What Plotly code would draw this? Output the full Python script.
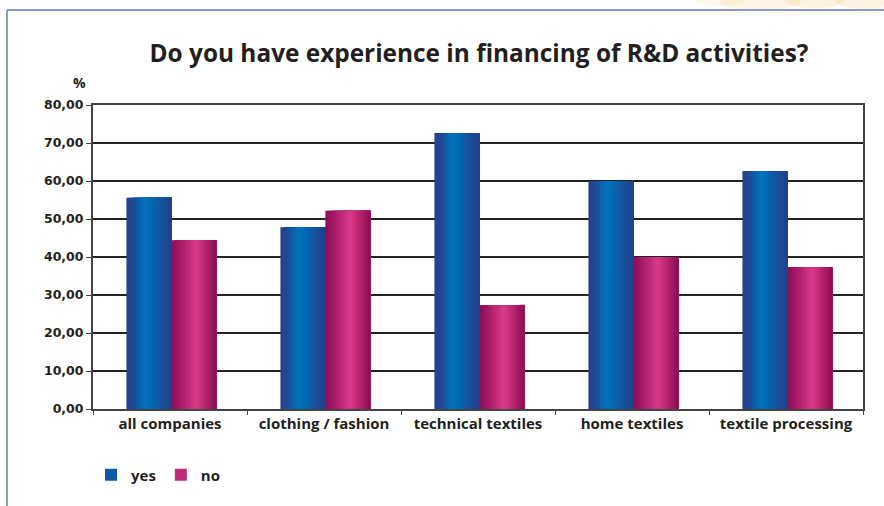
import plotly.graph_objects as go

# Survey results (percent of respondents)
categories = ["all companies", "clothing / fashion", "technical textiles",
              "home textiles", "textile processing"]
yes_values = [55.6, 47.8, 72.6, 60.0, 62.6]
no_values = [44.4, 52.2, 27.4, 40.0, 37.4]
series_names = ["yes", "no"]

W, H = 884, 506
L, R, T, B = 93, 863, 105, 409          # plot area in pixels
Y_MAX = 80


def px_x(p):
    return (p - L) / (R - L)


def px_y(p):
    return (B - p) / (B - T)


def hex_to_rgb(h):
    h = h.lstrip("#")
    return tuple(int(h[i:i + 2], 16) for i in (0, 2, 4))


def lerp_color(stops, t):
    for (t0, c0), (t1, c1) in zip(stops, stops[1:]):
        if t0 <= t <= t1:
            a = (t - t0) / (t1 - t0) if t1 > t0 else 0
            r0, r1 = hex_to_rgb(c0), hex_to_rgb(c1)
            return "rgb(%d,%d,%d)" % tuple(round(x + (y - x) * a) for x, y in zip(r0, r1))
    return stops[-1][1]


# horizontal shading profile across each bar (cylinder look)
blue_stops = [(0.0, "#2b3d8b"), (0.15, "#1d4a96"), (0.4, "#0073bc"),
              (0.55, "#0068b2"), (0.8, "#1a4e98"), (1.0, "#223f8b")]
pink_stops = [(0.0, "#8a0f55"), (0.2, "#a51a66"), (0.55, "#da3b89"),
              (0.75, "#ba256f"), (1.0, "#890d52")]

bar_w = 0.292
shift = 0.009
n_strips = 20
strip_w = bar_w / n_strips

fig = go.Figure()
for name, vals, stops, base_off, legend_col in [
    ("yes", yes_values, blue_stops, -bar_w + shift, "#0b5aa6"),
    ("no", no_values, pink_stops, shift, "#c02a76"),
]:
    # each strip runs to the bar's right edge; later strips cover earlier ones
    for k in range(n_strips):
        t = (k + 0.5) / n_strips
        fig.add_trace(go.Bar(
            x=categories, y=vals,
            width=bar_w - k * strip_w,
            offset=base_off + k * strip_w,
            marker=dict(color=lerp_color(stops, t), line=dict(width=0)),
            name=name, legendgroup=name,
            showlegend=False, hoverinfo="skip",
        ))
    # legend entry
    fig.add_trace(go.Bar(
        x=[categories[0]], y=[None], name=name, legendgroup=name,
        marker=dict(color=legend_col, line=dict(width=0)), showlegend=True,
    ))

font_cat = "Open Sans, Liberation Sans, sans-serif"
text_col = "#231f20"

shapes = [
    # outer page frame
    dict(type="line", xref="paper", yref="paper",
         x0=px_x(7), x1=px_x(W + 5), y0=px_y(10), y1=px_y(10),
         line=dict(color="#8a9bc8", width=2)),
    dict(type="line", xref="paper", yref="paper",
         x0=px_x(7), x1=px_x(7), y0=px_y(10), y1=px_y(H + 5),
         line=dict(color="#8a9bc8", width=2)),
]
# soft warm blotches along the top edge
for cx, cy, rx, ry, a in [(760, 2, 40, 8, 0.18), (815, 0, 30, 8, 0.22),
                          (865, 1, 30, 8, 0.2), (720, 0, 25, 6, 0.12)]:
    shapes.append(dict(type="circle", xref="paper", yref="paper", layer="below",
                       x0=px_x(cx - rx), x1=px_x(cx + rx),
                       y0=px_y(cy + ry), y1=px_y(cy - ry),
                       fillcolor="rgba(246,200,110,%.2f)" % a, line=dict(width=0)))

fig.update_layout(
    width=W, height=H, autosize=False,
    margin=dict(l=L, r=W - R, t=T, b=H - B, pad=0),
    paper_bgcolor="white", plot_bgcolor="white",
    barmode="overlay", separators=",.",
    title=dict(text="<b>Do you have experience in financing of R&D activities?</b>",
               x=479 / W, xanchor="center",
               y=1 - 53 / H, yanchor="middle",
               font=dict(family=font_cat, size=24.4, color=text_col)),
    xaxis=dict(
        type="category", showline=True, linecolor="#444", linewidth=2,
        mirror=True, ticks="outside", tickson="boundaries", ticklen=4,
        tickcolor="#444", tickwidth=1,
        tickfont=dict(family=font_cat, size=15, color=text_col, weight="bold"),
        showgrid=False,
    ),
    yaxis=dict(
        range=[0, Y_MAX], dtick=10, tickformat=".2f",
        showline=True, linecolor="#444", linewidth=2, mirror=True,
        ticks="outside", ticklen=5, tickcolor="#444", tickwidth=1,
        showgrid=True, gridcolor="#222", gridwidth=1.5,
        tickfont=dict(family="DejaVu Sans, Verdana, sans-serif", size=12.5,
                      color=text_col, weight="bold"),
        zeroline=False,
    ),
    legend=dict(orientation="h", x=px_x(91), xanchor="left",
                y=px_y(475), yanchor="middle",
                font=dict(family=font_cat, size=15, color=text_col, weight="bold"),
                traceorder="normal", itemwidth=30, bgcolor="rgba(0,0,0,0)"),
    annotations=[dict(text="<b>%</b>", xref="paper", yref="paper",
                      x=px_x(79), y=px_y(83), xanchor="center", yanchor="middle",
                      showarrow=False,
                      font=dict(family=font_cat, size=14, color=text_col))],
    shapes=shapes,
    showlegend=True,
)

fig.write_html("out.html")
